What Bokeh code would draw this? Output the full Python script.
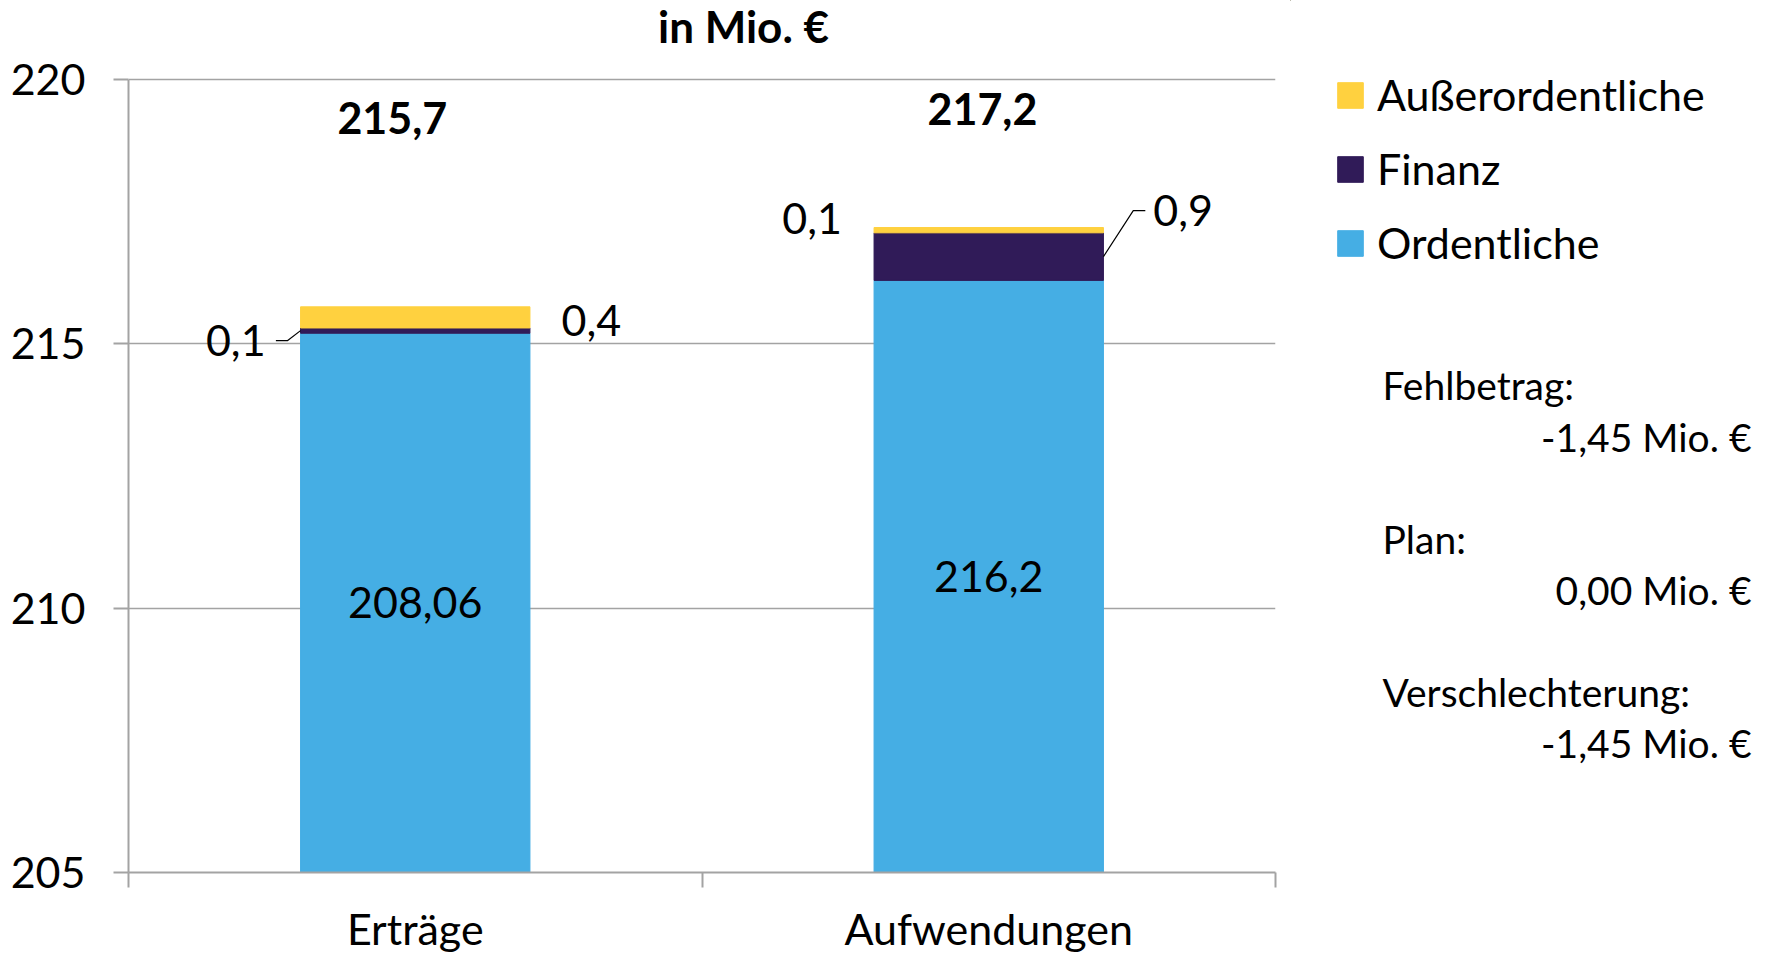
from bokeh.plotting import figure
from bokeh.layouts import row
from bokeh.models import (ColumnDataSource, Range1d, FixedTicker, Legend, LegendItem)
from bokeh.core.properties import value
from bokeh.embed import file_html
from bokeh.resources import INLINE

# ---------------- data ----------------
categories = ["Erträge", "Aufwendungen"]
ordentliche = [215.2, 216.2]
finanz = [0.1, 0.9]
ausserordentliche = [0.4, 0.1]
ordentliche_labels = ["208,06", "216,2"]
finanz_labels = ["0,1", "0,9"]
ausser_labels = ["0,4", "0,1"]
total_labels = ["215,7", "217,2"]
series_names = ["Ordentliche", "Finanz", "Außerordentliche"]
y_ticks = [205, 210, 215, 220]
chart_title = "in Mio. €"
side_titles = ["Fehlbetrag:", "Plan:", "Verschlechterung:"]
side_values = ["-1,45 Mio. €", "0,00 Mio. €", "-1,45 Mio. €"]

BLUE = "#45AEE4"
PURPLE = "#301B58"
YELLOW = "#FFD13F"
COLORS = [BLUE, PURPLE, YELLOW]
GRAY = "#A3A3A3"
FONT = "Lato"
FS = "43px"

Y0, Y1 = 205, 220
xc = [0.5, 1.5]
BW = 0.4
H = 957
W_MAIN = 1290
W_SIDE = 1771 - W_MAIN
TOP, BOTTOM = 79, 85          # pixel position of the 220 line / space below axis
# the frame reaches the top of the canvas; the value axis itself stops at 220
Y_TOP = Y1 + TOP * (Y1 - Y0) / (H - BOTTOM - TOP)

p = figure(width=W_MAIN, height=H, output_backend="svg", toolbar_location=None,
           x_range=Range1d(0, 2), y_range=Range1d(Y0, Y_TOP),
           min_border_left=128, min_border_right=15, min_border_top=0,
           min_border_bottom=BOTTOM)
p.outline_line_color = None

src = ColumnDataSource(dict(x=xc, ordentliche=ordentliche, finanz=finanz,
                            ausserordentliche=ausserordentliche))
rs = p.vbar_stack(["ordentliche", "finanz", "ausserordentliche"], x="x", width=BW,
                  source=src, fill_color=COLORS, line_color=COLORS, line_width=1)

# ---------- axes ----------
p.yaxis.bounds = (Y0, Y1)
p.yaxis.ticker = FixedTicker(ticks=y_ticks)
p.yaxis.minor_tick_line_color = None
p.yaxis.major_tick_out = 15
p.yaxis.major_tick_in = 0
p.yaxis.major_tick_line_color = GRAY
p.yaxis.major_tick_line_width = 2
p.yaxis.axis_line_color = GRAY
p.yaxis.axis_line_width = 2
p.yaxis.major_label_text_font = FONT
p.yaxis.major_label_text_font_size = FS
p.yaxis.major_label_text_color = "black"
p.yaxis.major_label_standoff = 28

p.xaxis.ticker = FixedTicker(ticks=xc, minor_ticks=[0, 1, 2])
p.xaxis.major_label_overrides = {xc[i]: categories[i] for i in range(2)}
p.xaxis.major_tick_line_color = None
p.xaxis.major_tick_out = 0
p.xaxis.major_tick_in = 0
p.xaxis.minor_tick_out = 15
p.xaxis.minor_tick_in = 0
p.xaxis.minor_tick_line_color = GRAY
p.xaxis.minor_tick_line_width = 2
p.xaxis.axis_line_color = GRAY
p.xaxis.axis_line_width = 2
p.xaxis.major_label_text_font = FONT
p.xaxis.major_label_text_font_size = FS
p.xaxis.major_label_text_color = "black"
p.xaxis.major_label_standoff = 15

p.xgrid.grid_line_color = None
p.ygrid.ticker = FixedTicker(ticks=y_ticks)
p.ygrid.grid_line_color = GRAY
p.ygrid.grid_line_width = 1.5

# ---------- title ----------
title_src = ColumnDataSource(dict(x=[1.0724], y=[Y1 + 1.02], t=[chart_title]))
p.text(x="x", y="y", text="t", source=title_src, text_align="center",
       text_baseline="middle", text_font=value(FONT), text_font_size="44px",
       text_font_style="bold", text_color="black")

# ---------- labels on bars ----------
n = len(categories)
ord_mid = [(Y0 + ordentliche[i]) / 2 for i in range(n)]
lab_src = ColumnDataSource(dict(x=xc, y=ord_mid, t=ordentliche_labels))
p.text(x="x", y="y", text="t", source=lab_src, text_align="center",
       text_baseline="middle", text_font=value(FONT), text_font_size=FS,
       text_color="black")

tops = [ordentliche[i] + finanz[i] + ausserordentliche[i] for i in range(n)]
tot_src = ColumnDataSource(dict(x=[xc[0] - 0.04, xc[1] - 0.011],
                                y=[tops[0] + 3.57, tops[1] + 2.24], t=total_labels))
p.text(x="x", y="y", text="t", source=tot_src, text_align="center",
       text_baseline="middle", text_font=value(FONT), text_font_size=FS,
       text_font_style="bold", text_color="black")

fin0_mid = ordentliche[0] + finanz[0] / 2
aus0_mid = ordentliche[0] + finanz[0] + ausserordentliche[0] / 2
fin1_mid = ordentliche[1] + finanz[1] / 2
aus1_mid = ordentliche[1] + finanz[1] + ausserordentliche[1] / 2
left0 = xc[0] - BW / 2
right0 = xc[0] + BW / 2
left1 = xc[1] - BW / 2
right1 = xc[1] + BW / 2

small_src = ColumnDataSource(dict(
    x=[left0 - 0.061, right0 + 0.055, left1 - 0.056, right1 + 0.087],
    y=[fin0_mid - 0.19, aus0_mid - 0.06, aus1_mid + 0.22, fin1_mid + 0.87],
    t=[finanz_labels[0], ausser_labels[0], ausser_labels[1], finanz_labels[1]],
    a=["right", "left", "right", "left"]))
p.text(x="x", y="y", text="t", text_align="a", source=small_src,
       text_baseline="middle", text_font=value(FONT), text_font_size=FS,
       text_color="black")

# leader lines
p.line([left0 - 0.043, left0 - 0.023, left0], [fin0_mid - 0.19, fin0_mid - 0.19, fin0_mid],
       line_color="black", line_width=1.2)
p.line([right1, right1 + 0.052, right1 + 0.073], [fin1_mid, fin1_mid + 0.87, fin1_mid + 0.87],
       line_color="black", line_width=1.2)

# ---------- side panel: legend + notes (pixel-like coordinates) ----------
p2 = figure(width=W_SIDE, height=H, output_backend="svg", toolbar_location=None,
            x_range=Range1d(W_MAIN, 1771), y_range=Range1d(H - BOTTOM, 0),
            x_axis_type=None, y_axis_type=None,
            min_border_left=0, min_border_right=0, min_border_top=0,
            min_border_bottom=BOTTOM)
p2.outline_line_color = None
p2.grid.visible = False

dummies = [p2.vbar(x=[0], top=[0], bottom=[0], width=1, fill_color=c, line_color=c)
           for c in COLORS]
legend = Legend(items=[LegendItem(label=series_names[i], renderers=[dummies[i]])
                       for i in (2, 1, 0)],
                location=(44, 604), orientation="vertical",
                glyph_width=32, glyph_height=32, label_standoff=11,
                spacing=23, padding=0, margin=0,
                border_line_color=None, background_fill_alpha=0,
                label_text_font=FONT, label_text_font_size=FS,
                label_text_color="black")
p2.add_layout(legend, "center")

side_src_t = ColumnDataSource(dict(x=[1382] * 3, y=[384, 538, 691], t=side_titles))
side_src_v = ColumnDataSource(dict(x=[1751] * 3, y=[436, 589, 742], t=side_values))
p2.text(x="x", y="y", text="t", source=side_src_t, text_align="left",
        text_baseline="middle", text_font=value(FONT), text_font_size="39px",
        text_color="black")
p2.text(x="x", y="y", text="t", source=side_src_v, text_align="right",
        text_baseline="middle", text_font=value(FONT), text_font_size="39px",
        text_color="black")

layout = row(p, p2, spacing=0)
open("out.html", "w").write(file_html(layout, INLINE))
